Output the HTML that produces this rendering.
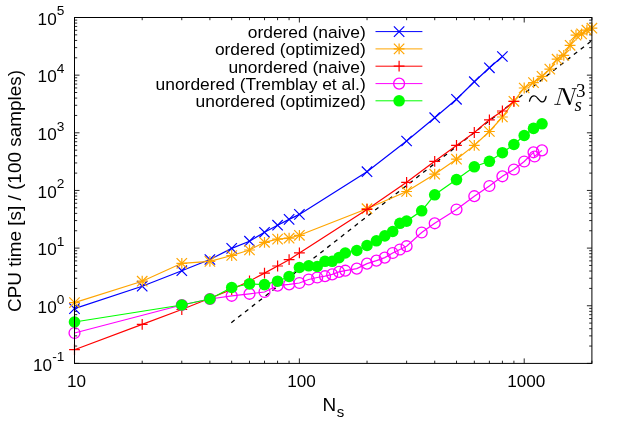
<!DOCTYPE html>
<html><head><meta charset="utf-8"><style>
html,body{margin:0;padding:0;background:#fff}
svg{display:block;will-change:transform}
text{font-family:"Liberation Sans",sans-serif;fill:#000}
.t{font-size:17.15px}.k{font-size:17.4px}.e{font-size:13.7px}.l{font-size:18.95px}
.m{font-family:"Liberation Serif",serif;font-style:italic;font-size:25px}
.ms{font-family:"Liberation Serif",serif;font-size:19px}
.mi{font-family:"Liberation Serif",serif;font-style:italic;font-size:19px}
</style></head><body>
<svg width="623" height="436" viewBox="0 0 623 436">
<rect width="623" height="436" fill="#fff"/>
<path d="M74.50 363.4v-5.0M74.50 17.5v5.0M142.19 363.4v-2.7M142.19 17.5v2.7M181.78 363.4v-2.7M181.78 17.5v2.7M209.88 363.4v-2.7M209.88 17.5v2.7M231.67 363.4v-2.7M231.67 17.5v2.7M249.47 363.4v-2.7M249.47 17.5v2.7M264.53 363.4v-2.7M264.53 17.5v2.7M277.57 363.4v-2.7M277.57 17.5v2.7M289.07 363.4v-2.7M289.07 17.5v2.7M299.36 363.4v-5.0M299.36 17.5v5.0M367.04 363.4v-2.7M367.04 17.5v2.7M406.64 363.4v-2.7M406.64 17.5v2.7M434.73 363.4v-2.7M434.73 17.5v2.7M456.52 363.4v-2.7M456.52 17.5v2.7M474.33 363.4v-2.7M474.33 17.5v2.7M489.38 363.4v-2.7M489.38 17.5v2.7M502.42 363.4v-2.7M502.42 17.5v2.7M513.92 363.4v-2.7M513.92 17.5v2.7M524.21 363.4v-5.0M524.21 17.5v5.0M591.90 363.4v-2.7M591.90 17.5v2.7M74.5 363.40h5.0M591.9 363.40h-5.0M74.5 346.05h2.7M591.9 346.05h-2.7M74.5 335.89h2.7M591.9 335.89h-2.7M74.5 328.69h2.7M591.9 328.69h-2.7M74.5 323.10h2.7M591.9 323.10h-2.7M74.5 318.54h2.7M591.9 318.54h-2.7M74.5 314.68h2.7M591.9 314.68h-2.7M74.5 311.34h2.7M591.9 311.34h-2.7M74.5 308.39h2.7M591.9 308.39h-2.7M74.5 305.75h5.0M591.9 305.75h-5.0M74.5 288.40h2.7M591.9 288.40h-2.7M74.5 278.24h2.7M591.9 278.24h-2.7M74.5 271.04h2.7M591.9 271.04h-2.7M74.5 265.45h2.7M591.9 265.45h-2.7M74.5 260.89h2.7M591.9 260.89h-2.7M74.5 257.03h2.7M591.9 257.03h-2.7M74.5 253.69h2.7M591.9 253.69h-2.7M74.5 250.74h2.7M591.9 250.74h-2.7M74.5 248.10h5.0M591.9 248.10h-5.0M74.5 230.75h2.7M591.9 230.75h-2.7M74.5 220.59h2.7M591.9 220.59h-2.7M74.5 213.39h2.7M591.9 213.39h-2.7M74.5 207.80h2.7M591.9 207.80h-2.7M74.5 203.24h2.7M591.9 203.24h-2.7M74.5 199.38h2.7M591.9 199.38h-2.7M74.5 196.04h2.7M591.9 196.04h-2.7M74.5 193.09h2.7M591.9 193.09h-2.7M74.5 190.45h5.0M591.9 190.45h-5.0M74.5 173.10h2.7M591.9 173.10h-2.7M74.5 162.94h2.7M591.9 162.94h-2.7M74.5 155.74h2.7M591.9 155.74h-2.7M74.5 150.15h2.7M591.9 150.15h-2.7M74.5 145.59h2.7M591.9 145.59h-2.7M74.5 141.73h2.7M591.9 141.73h-2.7M74.5 138.39h2.7M591.9 138.39h-2.7M74.5 135.44h2.7M591.9 135.44h-2.7M74.5 132.80h5.0M591.9 132.80h-5.0M74.5 115.45h2.7M591.9 115.45h-2.7M74.5 105.29h2.7M591.9 105.29h-2.7M74.5 98.09h2.7M591.9 98.09h-2.7M74.5 92.50h2.7M591.9 92.50h-2.7M74.5 87.94h2.7M591.9 87.94h-2.7M74.5 84.08h2.7M591.9 84.08h-2.7M74.5 80.74h2.7M591.9 80.74h-2.7M74.5 77.79h2.7M591.9 77.79h-2.7M74.5 75.15h5.0M591.9 75.15h-5.0M74.5 57.80h2.7M591.9 57.80h-2.7M74.5 47.64h2.7M591.9 47.64h-2.7M74.5 40.44h2.7M591.9 40.44h-2.7M74.5 34.85h2.7M591.9 34.85h-2.7M74.5 30.29h2.7M591.9 30.29h-2.7M74.5 26.43h2.7M591.9 26.43h-2.7M74.5 23.09h2.7M591.9 23.09h-2.7M74.5 20.14h2.7M591.9 20.14h-2.7M74.5 17.50h5M591.9 17.50h-5" stroke="#000" stroke-width="0.85" fill="none"/>
<line x1="231.3" y1="322.7" x2="591.9" y2="40.5" stroke="#000" stroke-width="1.3" stroke-dasharray="4.2 4.5"/>
<polyline fill="none" stroke="#0000ff" stroke-width="1.2"  points="74.5,308.6 142.2,286.2 181.8,270.7 209.9,259.5 231.7,248.4 249.5,241.2 264.5,232.3 277.6,225.2 289.1,219.4 299.4,214.4 367.0,171.7 406.6,141.0 434.7,117.7 456.5,99.3 474.3,81.7 489.4,67.8 502.4,56.5"/>
<path stroke="#0000ff" stroke-width="1.2" fill="none" d="M69.3 303.4L79.7 313.8M69.3 313.8L79.7 303.4"/>
<path stroke="#0000ff" stroke-width="1.2" fill="none" d="M137.0 281.0L147.4 291.4M137.0 291.4L147.4 281.0"/>
<path stroke="#0000ff" stroke-width="1.2" fill="none" d="M176.6 265.5L187.0 275.9M176.6 275.9L187.0 265.5"/>
<path stroke="#0000ff" stroke-width="1.2" fill="none" d="M204.7 254.3L215.1 264.7M204.7 264.7L215.1 254.3"/>
<path stroke="#0000ff" stroke-width="1.2" fill="none" d="M226.5 243.2L236.9 253.6M226.5 253.6L236.9 243.2"/>
<path stroke="#0000ff" stroke-width="1.2" fill="none" d="M244.3 236.0L254.7 246.4M244.3 246.4L254.7 236.0"/>
<path stroke="#0000ff" stroke-width="1.2" fill="none" d="M259.3 227.1L269.7 237.5M259.3 237.5L269.7 227.1"/>
<path stroke="#0000ff" stroke-width="1.2" fill="none" d="M272.4 220.0L282.8 230.4M272.4 230.4L282.8 220.0"/>
<path stroke="#0000ff" stroke-width="1.2" fill="none" d="M283.9 214.2L294.3 224.6M283.9 224.6L294.3 214.2"/>
<path stroke="#0000ff" stroke-width="1.2" fill="none" d="M294.2 209.2L304.6 219.6M294.2 219.6L304.6 209.2"/>
<path stroke="#0000ff" stroke-width="1.2" fill="none" d="M361.8 166.5L372.2 176.9M361.8 176.9L372.2 166.5"/>
<path stroke="#0000ff" stroke-width="1.2" fill="none" d="M401.4 135.8L411.8 146.2M401.4 146.2L411.8 135.8"/>
<path stroke="#0000ff" stroke-width="1.2" fill="none" d="M429.5 112.5L439.9 122.9M429.5 122.9L439.9 112.5"/>
<path stroke="#0000ff" stroke-width="1.2" fill="none" d="M451.3 94.1L461.7 104.5M451.3 104.5L461.7 94.1"/>
<path stroke="#0000ff" stroke-width="1.2" fill="none" d="M469.1 76.5L479.5 86.9M469.1 86.9L479.5 76.5"/>
<path stroke="#0000ff" stroke-width="1.2" fill="none" d="M484.2 62.6L494.6 73.0M484.2 73.0L494.6 62.6"/>
<path stroke="#0000ff" stroke-width="1.2" fill="none" d="M497.2 51.3L507.6 61.7M497.2 61.7L507.6 51.3"/>
<polyline fill="none" stroke="#ffa500" stroke-width="1.2"  points="74.5,302.6 142.2,281.2 181.8,263.3 209.9,261.4 231.7,255.5 249.5,250.0 264.5,242.3 277.6,239.1 289.1,238.2 299.4,235.3 367.0,208.7 406.6,191.5 434.7,174.2 456.5,159.2 474.3,145.4 489.4,131.5 502.4,117.0 513.9,101.3 524.2,88.0 533.5,82.6 542.0,76.3 549.8,69.1 557.1,59.2 563.8,55.4 570.1,45.3 576.0,35.2 581.6,33.9 586.9,30.2 591.9,28.2"/>
<path stroke="#ffa500" stroke-width="1.2" fill="none" d="M69.3 297.4L79.7 307.8M69.3 307.8L79.7 297.4"/><path stroke="#ffa500" stroke-width="1.2" fill="none" d="M69.1 302.6L79.9 302.6M74.5 297.2L74.5 308.0"/>
<path stroke="#ffa500" stroke-width="1.2" fill="none" d="M137.0 276.0L147.4 286.4M137.0 286.4L147.4 276.0"/><path stroke="#ffa500" stroke-width="1.2" fill="none" d="M136.8 281.2L147.6 281.2M142.2 275.8L142.2 286.6"/>
<path stroke="#ffa500" stroke-width="1.2" fill="none" d="M176.6 258.1L187.0 268.5M176.6 268.5L187.0 258.1"/><path stroke="#ffa500" stroke-width="1.2" fill="none" d="M176.4 263.3L187.2 263.3M181.8 257.9L181.8 268.7"/>
<path stroke="#ffa500" stroke-width="1.2" fill="none" d="M204.7 256.2L215.1 266.6M204.7 266.6L215.1 256.2"/><path stroke="#ffa500" stroke-width="1.2" fill="none" d="M204.5 261.4L215.3 261.4M209.9 256.0L209.9 266.8"/>
<path stroke="#ffa500" stroke-width="1.2" fill="none" d="M226.5 250.3L236.9 260.7M226.5 260.7L236.9 250.3"/><path stroke="#ffa500" stroke-width="1.2" fill="none" d="M226.3 255.5L237.1 255.5M231.7 250.1L231.7 260.9"/>
<path stroke="#ffa500" stroke-width="1.2" fill="none" d="M244.3 244.8L254.7 255.2M244.3 255.2L254.7 244.8"/><path stroke="#ffa500" stroke-width="1.2" fill="none" d="M244.1 250.0L254.9 250.0M249.5 244.6L249.5 255.4"/>
<path stroke="#ffa500" stroke-width="1.2" fill="none" d="M259.3 237.1L269.7 247.5M259.3 247.5L269.7 237.1"/><path stroke="#ffa500" stroke-width="1.2" fill="none" d="M259.1 242.3L269.9 242.3M264.5 236.9L264.5 247.7"/>
<path stroke="#ffa500" stroke-width="1.2" fill="none" d="M272.4 233.9L282.8 244.3M272.4 244.3L282.8 233.9"/><path stroke="#ffa500" stroke-width="1.2" fill="none" d="M272.2 239.1L283.0 239.1M277.6 233.7L277.6 244.5"/>
<path stroke="#ffa500" stroke-width="1.2" fill="none" d="M283.9 233.0L294.3 243.4M283.9 243.4L294.3 233.0"/><path stroke="#ffa500" stroke-width="1.2" fill="none" d="M283.7 238.2L294.5 238.2M289.1 232.8L289.1 243.6"/>
<path stroke="#ffa500" stroke-width="1.2" fill="none" d="M294.2 230.1L304.6 240.5M294.2 240.5L304.6 230.1"/><path stroke="#ffa500" stroke-width="1.2" fill="none" d="M294.0 235.3L304.8 235.3M299.4 229.9L299.4 240.7"/>
<path stroke="#ffa500" stroke-width="1.2" fill="none" d="M361.8 203.5L372.2 213.9M361.8 213.9L372.2 203.5"/><path stroke="#ffa500" stroke-width="1.2" fill="none" d="M361.6 208.7L372.4 208.7M367.0 203.3L367.0 214.1"/>
<path stroke="#ffa500" stroke-width="1.2" fill="none" d="M401.4 186.3L411.8 196.7M401.4 196.7L411.8 186.3"/><path stroke="#ffa500" stroke-width="1.2" fill="none" d="M401.2 191.5L412.0 191.5M406.6 186.1L406.6 196.9"/>
<path stroke="#ffa500" stroke-width="1.2" fill="none" d="M429.5 169.0L439.9 179.4M429.5 179.4L439.9 169.0"/><path stroke="#ffa500" stroke-width="1.2" fill="none" d="M429.3 174.2L440.1 174.2M434.7 168.8L434.7 179.6"/>
<path stroke="#ffa500" stroke-width="1.2" fill="none" d="M451.3 154.0L461.7 164.4M451.3 164.4L461.7 154.0"/><path stroke="#ffa500" stroke-width="1.2" fill="none" d="M451.1 159.2L461.9 159.2M456.5 153.8L456.5 164.6"/>
<path stroke="#ffa500" stroke-width="1.2" fill="none" d="M469.1 140.2L479.5 150.6M469.1 150.6L479.5 140.2"/><path stroke="#ffa500" stroke-width="1.2" fill="none" d="M468.9 145.4L479.7 145.4M474.3 140.0L474.3 150.8"/>
<path stroke="#ffa500" stroke-width="1.2" fill="none" d="M484.2 126.3L494.6 136.7M484.2 136.7L494.6 126.3"/><path stroke="#ffa500" stroke-width="1.2" fill="none" d="M484.0 131.5L494.8 131.5M489.4 126.1L489.4 136.9"/>
<path stroke="#ffa500" stroke-width="1.2" fill="none" d="M497.2 111.8L507.6 122.2M497.2 122.2L507.6 111.8"/><path stroke="#ffa500" stroke-width="1.2" fill="none" d="M497.0 117.0L507.8 117.0M502.4 111.6L502.4 122.4"/>
<path stroke="#ffa500" stroke-width="1.2" fill="none" d="M508.7 96.1L519.1 106.5M508.7 106.5L519.1 96.1"/><path stroke="#ffa500" stroke-width="1.2" fill="none" d="M508.5 101.3L519.3 101.3M513.9 95.9L513.9 106.7"/>
<path stroke="#ffa500" stroke-width="1.2" fill="none" d="M519.0 82.8L529.4 93.2M519.0 93.2L529.4 82.8"/><path stroke="#ffa500" stroke-width="1.2" fill="none" d="M518.8 88.0L529.6 88.0M524.2 82.6L524.2 93.4"/>
<path stroke="#ffa500" stroke-width="1.2" fill="none" d="M528.3 77.4L538.7 87.8M528.3 87.8L538.7 77.4"/><path stroke="#ffa500" stroke-width="1.2" fill="none" d="M528.1 82.6L538.9 82.6M533.5 77.2L533.5 88.0"/>
<path stroke="#ffa500" stroke-width="1.2" fill="none" d="M536.8 71.1L547.2 81.5M536.8 81.5L547.2 71.1"/><path stroke="#ffa500" stroke-width="1.2" fill="none" d="M536.6 76.3L547.4 76.3M542.0 70.9L542.0 81.7"/>
<path stroke="#ffa500" stroke-width="1.2" fill="none" d="M544.6 63.9L555.0 74.3M544.6 74.3L555.0 63.9"/><path stroke="#ffa500" stroke-width="1.2" fill="none" d="M544.4 69.1L555.2 69.1M549.8 63.7L549.8 74.5"/>
<path stroke="#ffa500" stroke-width="1.2" fill="none" d="M551.9 54.0L562.3 64.4M551.9 64.4L562.3 54.0"/><path stroke="#ffa500" stroke-width="1.2" fill="none" d="M551.7 59.2L562.5 59.2M557.1 53.8L557.1 64.6"/>
<path stroke="#ffa500" stroke-width="1.2" fill="none" d="M558.6 50.2L569.0 60.6M558.6 60.6L569.0 50.2"/><path stroke="#ffa500" stroke-width="1.2" fill="none" d="M558.4 55.4L569.2 55.4M563.8 50.0L563.8 60.8"/>
<path stroke="#ffa500" stroke-width="1.2" fill="none" d="M564.9 40.1L575.3 50.5M564.9 50.5L575.3 40.1"/><path stroke="#ffa500" stroke-width="1.2" fill="none" d="M564.7 45.3L575.5 45.3M570.1 39.9L570.1 50.7"/>
<path stroke="#ffa500" stroke-width="1.2" fill="none" d="M570.8 30.0L581.2 40.4M570.8 40.4L581.2 30.0"/><path stroke="#ffa500" stroke-width="1.2" fill="none" d="M570.6 35.2L581.4 35.2M576.0 29.8L576.0 40.6"/>
<path stroke="#ffa500" stroke-width="1.2" fill="none" d="M576.4 28.7L586.8 39.1M576.4 39.1L586.8 28.7"/><path stroke="#ffa500" stroke-width="1.2" fill="none" d="M576.2 33.9L587.0 33.9M581.6 28.5L581.6 39.3"/>
<path stroke="#ffa500" stroke-width="1.2" fill="none" d="M581.7 25.0L592.1 35.4M581.7 35.4L592.1 25.0"/><path stroke="#ffa500" stroke-width="1.2" fill="none" d="M581.5 30.2L592.3 30.2M586.9 24.8L586.9 35.6"/>
<path stroke="#ffa500" stroke-width="1.2" fill="none" d="M586.7 23.0L597.1 33.4M586.7 33.4L597.1 23.0"/><path stroke="#ffa500" stroke-width="1.2" fill="none" d="M586.5 28.2L597.3 28.2M591.9 22.8L591.9 33.6"/>
<polyline fill="none" stroke="#ff0000" stroke-width="1.2"  points="74.5,349.7 142.2,324.4 181.8,309.5 209.9,298.3 231.7,289.5 249.5,281.0 264.5,273.1 277.6,266.0 289.1,259.7 299.4,252.9 367.0,209.4 406.6,182.3 434.7,161.3 456.5,145.4 474.3,132.5 489.4,119.8 502.4,111.0 513.9,101.3"/>
<path stroke="#ff0000" stroke-width="1.2" fill="none" d="M69.1 349.7L79.9 349.7M74.5 344.3L74.5 355.1"/>
<path stroke="#ff0000" stroke-width="1.2" fill="none" d="M136.8 324.4L147.6 324.4M142.2 319.0L142.2 329.8"/>
<path stroke="#ff0000" stroke-width="1.2" fill="none" d="M176.4 309.5L187.2 309.5M181.8 304.1L181.8 314.9"/>
<path stroke="#ff0000" stroke-width="1.2" fill="none" d="M204.5 298.3L215.3 298.3M209.9 292.9L209.9 303.7"/>
<path stroke="#ff0000" stroke-width="1.2" fill="none" d="M226.3 289.5L237.1 289.5M231.7 284.1L231.7 294.9"/>
<path stroke="#ff0000" stroke-width="1.2" fill="none" d="M244.1 281.0L254.9 281.0M249.5 275.6L249.5 286.4"/>
<path stroke="#ff0000" stroke-width="1.2" fill="none" d="M259.1 273.1L269.9 273.1M264.5 267.7L264.5 278.5"/>
<path stroke="#ff0000" stroke-width="1.2" fill="none" d="M272.2 266.0L283.0 266.0M277.6 260.6L277.6 271.4"/>
<path stroke="#ff0000" stroke-width="1.2" fill="none" d="M283.7 259.7L294.5 259.7M289.1 254.3L289.1 265.1"/>
<path stroke="#ff0000" stroke-width="1.2" fill="none" d="M294.0 252.9L304.8 252.9M299.4 247.5L299.4 258.3"/>
<path stroke="#ff0000" stroke-width="1.2" fill="none" d="M361.6 209.4L372.4 209.4M367.0 204.0L367.0 214.8"/>
<path stroke="#ff0000" stroke-width="1.2" fill="none" d="M401.2 182.3L412.0 182.3M406.6 176.9L406.6 187.7"/>
<path stroke="#ff0000" stroke-width="1.2" fill="none" d="M429.3 161.3L440.1 161.3M434.7 155.9L434.7 166.7"/>
<path stroke="#ff0000" stroke-width="1.2" fill="none" d="M451.1 145.4L461.9 145.4M456.5 140.0L456.5 150.8"/>
<path stroke="#ff0000" stroke-width="1.2" fill="none" d="M468.9 132.5L479.7 132.5M474.3 127.1L474.3 137.9"/>
<path stroke="#ff0000" stroke-width="1.2" fill="none" d="M484.0 119.8L494.8 119.8M489.4 114.4L489.4 125.2"/>
<path stroke="#ff0000" stroke-width="1.2" fill="none" d="M497.0 111.0L507.8 111.0M502.4 105.6L502.4 116.4"/>
<path stroke="#ff0000" stroke-width="1.2" fill="none" d="M508.5 101.3L519.3 101.3M513.9 95.9L513.9 106.7"/>
<polyline fill="none" stroke="#ff00ff" stroke-width="1.2"  points="74.5,333.0 181.8,305.0 209.9,299.0 231.7,295.8 249.5,293.8 264.5,292.0 277.6,285.7 289.1,284.4 299.4,283.0 308.7,279.5 317.2,277.5 325.0,276.2 332.2,274.4 339.0,271.9 345.3,270.7 356.8,268.6 367.0,263.6 376.4,260.6 384.8,257.6 392.7,253.0 399.9,249.5 406.6,246.2 421.7,232.5 434.7,223.3 456.5,209.5 474.3,196.2 489.4,186.0 502.4,176.3 513.9,169.5 524.2,161.5 533.5,152.3 534.6,156.5 542.0,150.4"/>
<circle cx="74.5" cy="333.0" r="5.45" fill="none" stroke="#ff00ff" stroke-width="1.3"/>
<circle cx="181.8" cy="305.0" r="5.45" fill="none" stroke="#ff00ff" stroke-width="1.3"/>
<circle cx="209.9" cy="299.0" r="5.45" fill="none" stroke="#ff00ff" stroke-width="1.3"/>
<circle cx="231.7" cy="295.8" r="5.45" fill="none" stroke="#ff00ff" stroke-width="1.3"/>
<circle cx="249.5" cy="293.8" r="5.45" fill="none" stroke="#ff00ff" stroke-width="1.3"/>
<circle cx="264.5" cy="292.0" r="5.45" fill="none" stroke="#ff00ff" stroke-width="1.3"/>
<circle cx="277.6" cy="285.7" r="5.45" fill="none" stroke="#ff00ff" stroke-width="1.3"/>
<circle cx="289.1" cy="284.4" r="5.45" fill="none" stroke="#ff00ff" stroke-width="1.3"/>
<circle cx="299.4" cy="283.0" r="5.45" fill="none" stroke="#ff00ff" stroke-width="1.3"/>
<circle cx="308.7" cy="279.5" r="5.45" fill="none" stroke="#ff00ff" stroke-width="1.3"/>
<circle cx="317.2" cy="277.5" r="5.45" fill="none" stroke="#ff00ff" stroke-width="1.3"/>
<circle cx="325.0" cy="276.2" r="5.45" fill="none" stroke="#ff00ff" stroke-width="1.3"/>
<circle cx="332.2" cy="274.4" r="5.45" fill="none" stroke="#ff00ff" stroke-width="1.3"/>
<circle cx="339.0" cy="271.9" r="5.45" fill="none" stroke="#ff00ff" stroke-width="1.3"/>
<circle cx="345.3" cy="270.7" r="5.45" fill="none" stroke="#ff00ff" stroke-width="1.3"/>
<circle cx="356.8" cy="268.6" r="5.45" fill="none" stroke="#ff00ff" stroke-width="1.3"/>
<circle cx="367.0" cy="263.6" r="5.45" fill="none" stroke="#ff00ff" stroke-width="1.3"/>
<circle cx="376.4" cy="260.6" r="5.45" fill="none" stroke="#ff00ff" stroke-width="1.3"/>
<circle cx="384.8" cy="257.6" r="5.45" fill="none" stroke="#ff00ff" stroke-width="1.3"/>
<circle cx="392.7" cy="253.0" r="5.45" fill="none" stroke="#ff00ff" stroke-width="1.3"/>
<circle cx="399.9" cy="249.5" r="5.45" fill="none" stroke="#ff00ff" stroke-width="1.3"/>
<circle cx="406.6" cy="246.2" r="5.45" fill="none" stroke="#ff00ff" stroke-width="1.3"/>
<circle cx="421.7" cy="232.5" r="5.45" fill="none" stroke="#ff00ff" stroke-width="1.3"/>
<circle cx="434.7" cy="223.3" r="5.45" fill="none" stroke="#ff00ff" stroke-width="1.3"/>
<circle cx="456.5" cy="209.5" r="5.45" fill="none" stroke="#ff00ff" stroke-width="1.3"/>
<circle cx="474.3" cy="196.2" r="5.45" fill="none" stroke="#ff00ff" stroke-width="1.3"/>
<circle cx="489.4" cy="186.0" r="5.45" fill="none" stroke="#ff00ff" stroke-width="1.3"/>
<circle cx="502.4" cy="176.3" r="5.45" fill="none" stroke="#ff00ff" stroke-width="1.3"/>
<circle cx="513.9" cy="169.5" r="5.45" fill="none" stroke="#ff00ff" stroke-width="1.3"/>
<circle cx="524.2" cy="161.5" r="5.45" fill="none" stroke="#ff00ff" stroke-width="1.3"/>
<circle cx="533.5" cy="152.3" r="5.45" fill="none" stroke="#ff00ff" stroke-width="1.3"/>
<circle cx="534.6" cy="156.5" r="5.45" fill="none" stroke="#ff00ff" stroke-width="1.3"/>
<circle cx="542.0" cy="150.4" r="5.45" fill="none" stroke="#ff00ff" stroke-width="1.3"/>
<polyline fill="none" stroke="#00ff00" stroke-width="1.2"  points="74.5,322.0 181.8,305.0 209.9,299.0 231.7,287.5 249.5,283.9 264.5,284.6 277.6,281.2 289.1,276.5 299.4,267.5 308.7,265.8 317.2,266.5 325.0,261.3 332.2,261.3 339.0,257.6 345.3,253.0 356.8,250.5 367.0,245.5 376.4,240.8 384.8,235.9 392.7,231.5 399.9,223.3 406.6,221.1 421.7,210.8 434.7,194.8 456.5,179.6 474.3,166.8 489.4,161.3 502.4,152.7 513.9,144.5 524.2,135.5 533.5,128.4 542.0,123.8"/>
<circle cx="74.5" cy="322.0" r="5.8" fill="#00ff00"/>
<circle cx="181.8" cy="305.0" r="5.8" fill="#00ff00"/>
<circle cx="209.9" cy="299.0" r="5.8" fill="#00ff00"/>
<circle cx="231.7" cy="287.5" r="5.8" fill="#00ff00"/>
<circle cx="249.5" cy="283.9" r="5.8" fill="#00ff00"/>
<circle cx="264.5" cy="284.6" r="5.8" fill="#00ff00"/>
<circle cx="277.6" cy="281.2" r="5.8" fill="#00ff00"/>
<circle cx="289.1" cy="276.5" r="5.8" fill="#00ff00"/>
<circle cx="299.4" cy="267.5" r="5.8" fill="#00ff00"/>
<circle cx="308.7" cy="265.8" r="5.8" fill="#00ff00"/>
<circle cx="317.2" cy="266.5" r="5.8" fill="#00ff00"/>
<circle cx="325.0" cy="261.3" r="5.8" fill="#00ff00"/>
<circle cx="332.2" cy="261.3" r="5.8" fill="#00ff00"/>
<circle cx="339.0" cy="257.6" r="5.8" fill="#00ff00"/>
<circle cx="345.3" cy="253.0" r="5.8" fill="#00ff00"/>
<circle cx="356.8" cy="250.5" r="5.8" fill="#00ff00"/>
<circle cx="367.0" cy="245.5" r="5.8" fill="#00ff00"/>
<circle cx="376.4" cy="240.8" r="5.8" fill="#00ff00"/>
<circle cx="384.8" cy="235.9" r="5.8" fill="#00ff00"/>
<circle cx="392.7" cy="231.5" r="5.8" fill="#00ff00"/>
<circle cx="399.9" cy="223.3" r="5.8" fill="#00ff00"/>
<circle cx="406.6" cy="221.1" r="5.8" fill="#00ff00"/>
<circle cx="421.7" cy="210.8" r="5.8" fill="#00ff00"/>
<circle cx="434.7" cy="194.8" r="5.8" fill="#00ff00"/>
<circle cx="456.5" cy="179.6" r="5.8" fill="#00ff00"/>
<circle cx="474.3" cy="166.8" r="5.8" fill="#00ff00"/>
<circle cx="489.4" cy="161.3" r="5.8" fill="#00ff00"/>
<circle cx="502.4" cy="152.7" r="5.8" fill="#00ff00"/>
<circle cx="513.9" cy="144.5" r="5.8" fill="#00ff00"/>
<circle cx="524.2" cy="135.5" r="5.8" fill="#00ff00"/>
<circle cx="533.5" cy="128.4" r="5.8" fill="#00ff00"/>
<circle cx="542.0" cy="123.8" r="5.8" fill="#00ff00"/>
<line x1="375.5" y1="31.6" x2="422.4" y2="31.6" stroke="#0000ff" stroke-width="1"/>
<path stroke="#0000ff" stroke-width="1.2" fill="none" d="M393.9 26.4L404.3 36.8M393.9 36.8L404.3 26.4"/>
<text x="365.7" y="38.0" text-anchor="end" class="k">ordered (naive)</text>
<line x1="375.5" y1="48.9" x2="422.4" y2="48.9" stroke="#ffa500" stroke-width="1"/>
<path stroke="#ffa500" stroke-width="1.2" fill="none" d="M393.9 43.7L404.3 54.1M393.9 54.1L404.3 43.7"/><path stroke="#ffa500" stroke-width="1.2" fill="none" d="M393.7 48.9L404.5 48.9M399.1 43.5L399.1 54.3"/>
<text x="365.7" y="55.3" text-anchor="end" class="k">ordered (optimized)</text>
<line x1="375.5" y1="66.2" x2="422.4" y2="66.2" stroke="#ff0000" stroke-width="1"/>
<path stroke="#ff0000" stroke-width="1.2" fill="none" d="M393.7 66.2L404.5 66.2M399.1 60.8L399.1 71.6"/>
<text x="365.7" y="72.6" text-anchor="end" class="k">unordered (naive)</text>
<line x1="375.5" y1="83.6" x2="422.4" y2="83.6" stroke="#ff00ff" stroke-width="1"/>
<circle cx="399.1" cy="83.6" r="5.45" fill="none" stroke="#ff00ff" stroke-width="1.3"/>
<text x="365.7" y="90.0" text-anchor="end" class="k">unordered (Tremblay et al.)</text>
<line x1="375.5" y1="100.8" x2="422.4" y2="100.8" stroke="#00ff00" stroke-width="1"/>
<circle cx="399.1" cy="100.8" r="5.8" fill="#00ff00"/>
<text x="365.7" y="107.2" text-anchor="end" class="k">unordered (optimized)</text>
<rect x="74.5" y="17.5" width="517.4" height="345.9" fill="none" stroke="#000" stroke-width="1"/>
<text x="76.6" y="387.0" text-anchor="middle" class="t">10</text>
<text x="301.5" y="387.0" text-anchor="middle" class="t">100</text>
<text x="526.3" y="387.0" text-anchor="middle" class="t">1000</text>
<text x="64.3" y="370.5" text-anchor="end" class="t">10<tspan dy="-9.3" class="e">-1</tspan></text>
<text x="64.3" y="312.9" text-anchor="end" class="t">10<tspan dy="-9.3" class="e">0</tspan></text>
<text x="64.3" y="255.2" text-anchor="end" class="t">10<tspan dy="-9.3" class="e">1</tspan></text>
<text x="64.3" y="197.6" text-anchor="end" class="t">10<tspan dy="-9.3" class="e">2</tspan></text>
<text x="64.3" y="139.9" text-anchor="end" class="t">10<tspan dy="-9.3" class="e">3</tspan></text>
<text x="64.3" y="82.2" text-anchor="end" class="t">10<tspan dy="-9.3" class="e">4</tspan></text>
<text x="64.3" y="24.6" text-anchor="end" class="t">10<tspan dy="-9.3" class="e">5</tspan></text>
<text x="322.6" y="411.0" class="l">N<tspan dx="0.4" dy="5.5" font-size="15">s</tspan></text>
<text transform="translate(20.8,191.0) rotate(-90)" text-anchor="middle" class="l">CPU time [s] / (100 samples)</text>
<path d="M529.5,101.2 C530.3,97 532.6,95.2 535,96 C537.6,96.9 539,101.3 541.8,101.9 C544,102.3 545.6,99.8 546.1,96.4" fill="none" stroke="#000" stroke-width="1.3" stroke-linecap="round"/>
<g stroke="#000" stroke-width="0.85" fill="none" stroke-linecap="round"><path d="M554.7,104.4H560.2M557.4,104.1L561.8,88.9M558.9,88.6H562.5M570.3,103.6L574.9,89.0M572.2,88.6H576.3"/><path d="M561.9,88.3H564.5L570.7,103.2L570.2,104.9H568.9Z" fill="#000" stroke="none"/></g>
<text x="576.0" y="97.0" class="ms">3</text>
<text x="574.5" y="110.8" class="mi">s</text>
</svg></body></html>
